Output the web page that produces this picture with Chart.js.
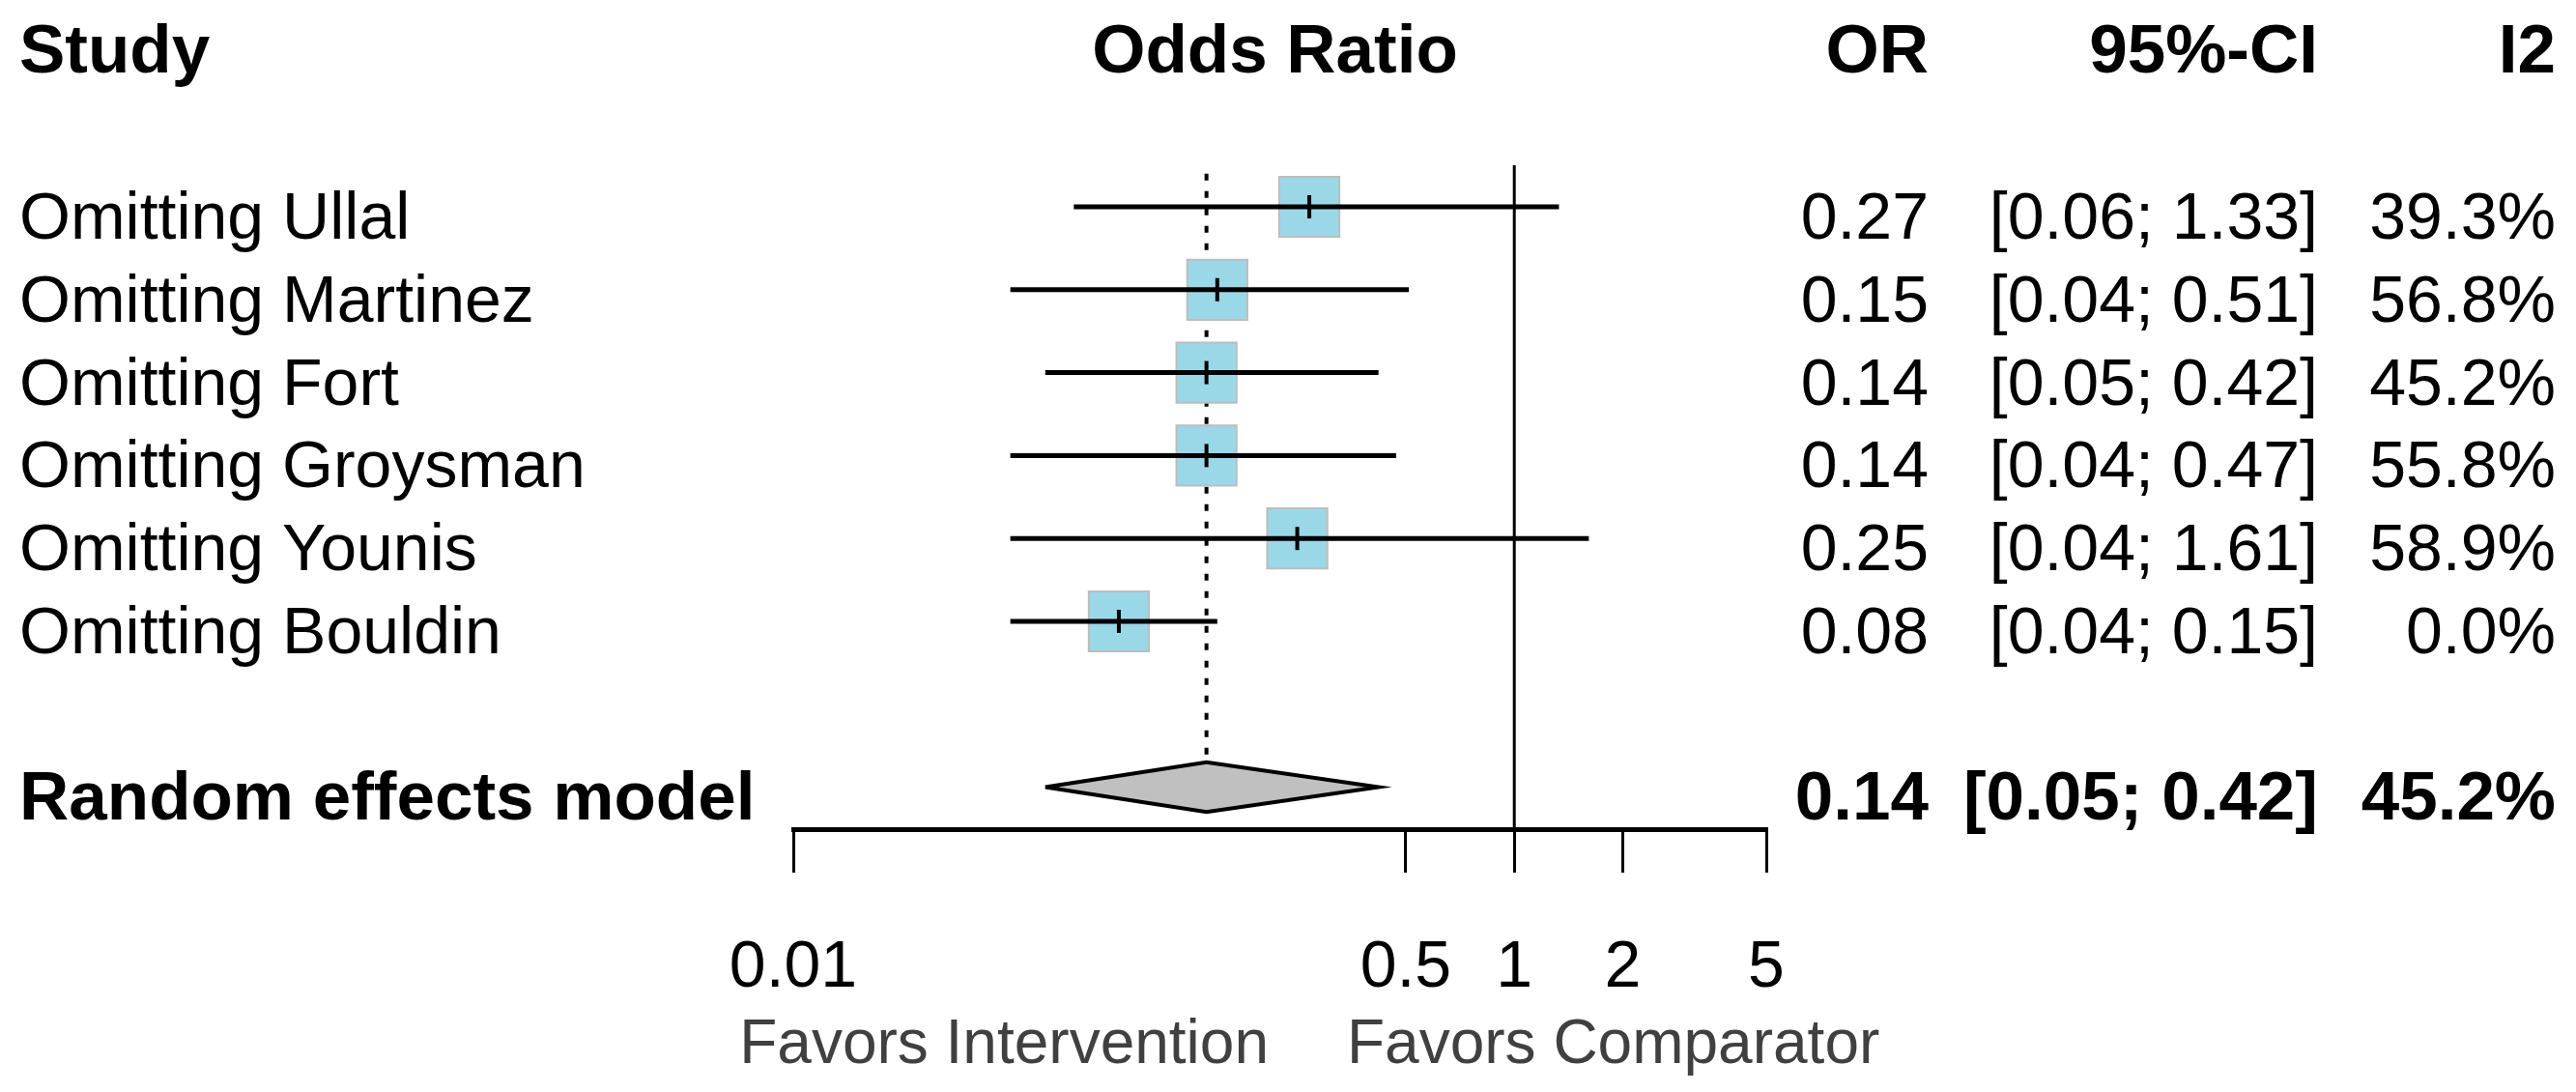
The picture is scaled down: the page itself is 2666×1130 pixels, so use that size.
<!DOCTYPE html>
<html>
<head>
<meta charset="utf-8">
<script src="https://cdn.jsdelivr.net/npm/chart.js@4.4.1/dist/chart.umd.min.js"></script>
<style>
  html, body { margin: 0; padding: 0; background: #fff; }
  canvas { display: block; }
</style>
</head>
<body>
<canvas id="forest" width="2666" height="1130"></canvas>
<script>
// leave-one-out data
const studies = ['Omitting Ullal', 'Omitting Martinez', 'Omitting Fort',
  'Omitting Groysman', 'Omitting Younis', 'Omitting Bouldin'];
const orValues = [0.27, 0.15, 0.14, 0.14, 0.25, 0.08];
const ciLower = [0.06, 0.04, 0.05, 0.04, 0.04, 0.04];
const ciUpper = [1.33, 0.51, 0.42, 0.47, 1.61, 0.15];
const i2Values = ['39.3%', '56.8%', '45.2%', '55.8%', '58.9%', '0.0%'];

const pooledLabel = 'Random effects model';
const pooledOR = 0.14;
const pooledLower = 0.05;
const pooledUpper = 0.42;
const pooledI2 = '45.2%';

const headers = ['Study', 'Odds Ratio', 'OR', '95%-CI', 'I2'];
const tickValues = [0.01, 0.5, 1, 2, 5];
const tickLabels = ['0.01', '0.5', '1', '2', '5'];
const favorsLeft = 'Favors Intervention';
const favorsRight = 'Favors Comparator';

const FONT = '"Liberation Sans", Arial, sans-serif';

// row layout (row 1 = first study)
const rows = studies.map((s, i) => i + 1);
const headerRow = -1;
const pooledRow = studies.length + 2;
const rowTop = 214, rowH = 85.8, axisY = 858;
const yMin = -(rowTop - rowH) / rowH;
const yMax = (axisY - rowTop + rowH) / rowH;
const dh = 0.3;

const ctx = document.querySelector('#forest').getContext('2d');

const ciSets = studies.map((s, i) => ({
  type: 'line',
  data: [{x: ciLower[i], y: rows[i]}, {x: ciUpper[i], y: rows[i]}],
  borderColor: '#000',
  borderWidth: 5,
  pointRadius: 0,
  order: 2
}));

const tablePlugin = {
  id: 'table',
  afterDraw(chart) {
    const c = chart.ctx, y = chart.scales.y, area = chart.chartArea;
    c.save();
    c.fillStyle = '#000';
    c.textBaseline = 'alphabetic';
    const put = (txt, x, row, align, bold) => {
      c.font = bold ? 'bold 71px ' + FONT : '68px ' + FONT;
      c.textAlign = align;
      c.fillText(txt, x, y.getPixelForValue(row) + 33);
    };
    put(headers[0], 20, headerRow, 'left', true);
    put(headers[1], (area.left + area.right) / 2 - 5, headerRow, 'center', true);
    put(headers[2], 1996, headerRow, 'right', true);
    put(headers[3], 2399, headerRow, 'right', true);
    put(headers[4], 2645, headerRow, 'right', true);

    studies.forEach((s, i) => {
      put(s, 20, rows[i], 'left', false);
      put(orValues[i].toFixed(2), 1996, rows[i], 'right', false);
      put('[' + ciLower[i].toFixed(2) + '; ' + ciUpper[i].toFixed(2) + ']', 2399, rows[i], 'right', false);
      put(i2Values[i], 2645, rows[i], 'right', false);
    });

    put(pooledLabel, 20, pooledRow, 'left', true);
    put(pooledOR.toFixed(2), 1996, pooledRow, 'right', true);
    put('[' + pooledLower.toFixed(2) + '; ' + pooledUpper.toFixed(2) + ']', 2399, pooledRow, 'right', true);
    put(pooledI2, 2645, pooledRow, 'right', true);

    c.font = '64px ' + FONT;
    c.fillStyle = '#404040';
    c.textAlign = 'right';
    c.fillText(favorsLeft, 1313, 1100);
    c.textAlign = 'left';
    c.fillText(favorsRight, 1394, 1100);
    c.restore();
  }
};

new Chart(ctx, {
  type: 'scatter',
  data: {
    datasets: [
      {
        type: 'line',
        data: [{x: 1, y: 0.5}, {x: 1, y: yMax}],
        borderColor: '#000',
        borderWidth: 3,
        pointRadius: 0,
        order: 6
      },
      {
        type: 'line',
        data: [{x: pooledOR, y: 0.6}, {x: pooledOR, y: pooledRow - dh}],
        borderColor: '#000',
        borderWidth: 4,
        borderDash: [7, 11],
        pointRadius: 0,
        order: 5
      },
      {
        data: studies.map((s, i) => ({x: orValues[i], y: rows[i]})),
        pointStyle: 'rect',
        pointRadius: 44,
        backgroundColor: '#9ad8e8',
        borderColor: '#bdbdbd',
        borderWidth: 2,
        order: 4
      },
      {
        type: 'line',
        data: [
          {x: pooledLower, y: pooledRow},
          {x: pooledOR, y: pooledRow - dh},
          {x: pooledUpper, y: pooledRow},
          {x: pooledOR, y: pooledRow + dh},
          {x: pooledLower, y: pooledRow}
        ],
        fill: 'shape',
        backgroundColor: '#c0c0c0',
        borderColor: '#000',
        borderWidth: 4,
        pointRadius: 0,
        order: 3
      },
      ...ciSets,
      {
        data: studies.map((s, i) => ({x: orValues[i], y: rows[i]})),
        pointStyle: 'line',
        rotation: 90,
        pointRadius: 12,
        borderColor: '#000',
        borderWidth: 4,
        order: 1
      }
    ]
  },
  options: {
    responsive: false,
    animation: false,
    devicePixelRatio: 1,
    events: [],
    layout: { autoPadding: false, padding: { left: 821, right: 838, top: 0, bottom: 0 } },
    plugins: { legend: { display: false }, tooltip: { enabled: false } },
    scales: {
      x: {
        type: 'logarithmic',
        min: 0.01,
        max: 5,
        afterBuildTicks: s => { s.ticks = tickValues.map(v => ({value: v})); },
        afterFit: s => { s.height = 1130 - axisY; },
        border: { color: '#000', width: 5 },
        grid: { drawOnChartArea: false, drawTicks: true, tickLength: 45, color: '#000', lineWidth: 3 },
        ticks: {
          color: '#000',
          font: { family: FONT, size: 68 },
          padding: 58,
          maxRotation: 0,
          autoSkip: false,
          callback: (v, i) => tickLabels[i]
        }
      },
      y: { type: 'linear', reverse: true, min: yMin, max: yMax, display: false }
    }
  },
  plugins: [tablePlugin]
});
</script>
</body>
</html>
